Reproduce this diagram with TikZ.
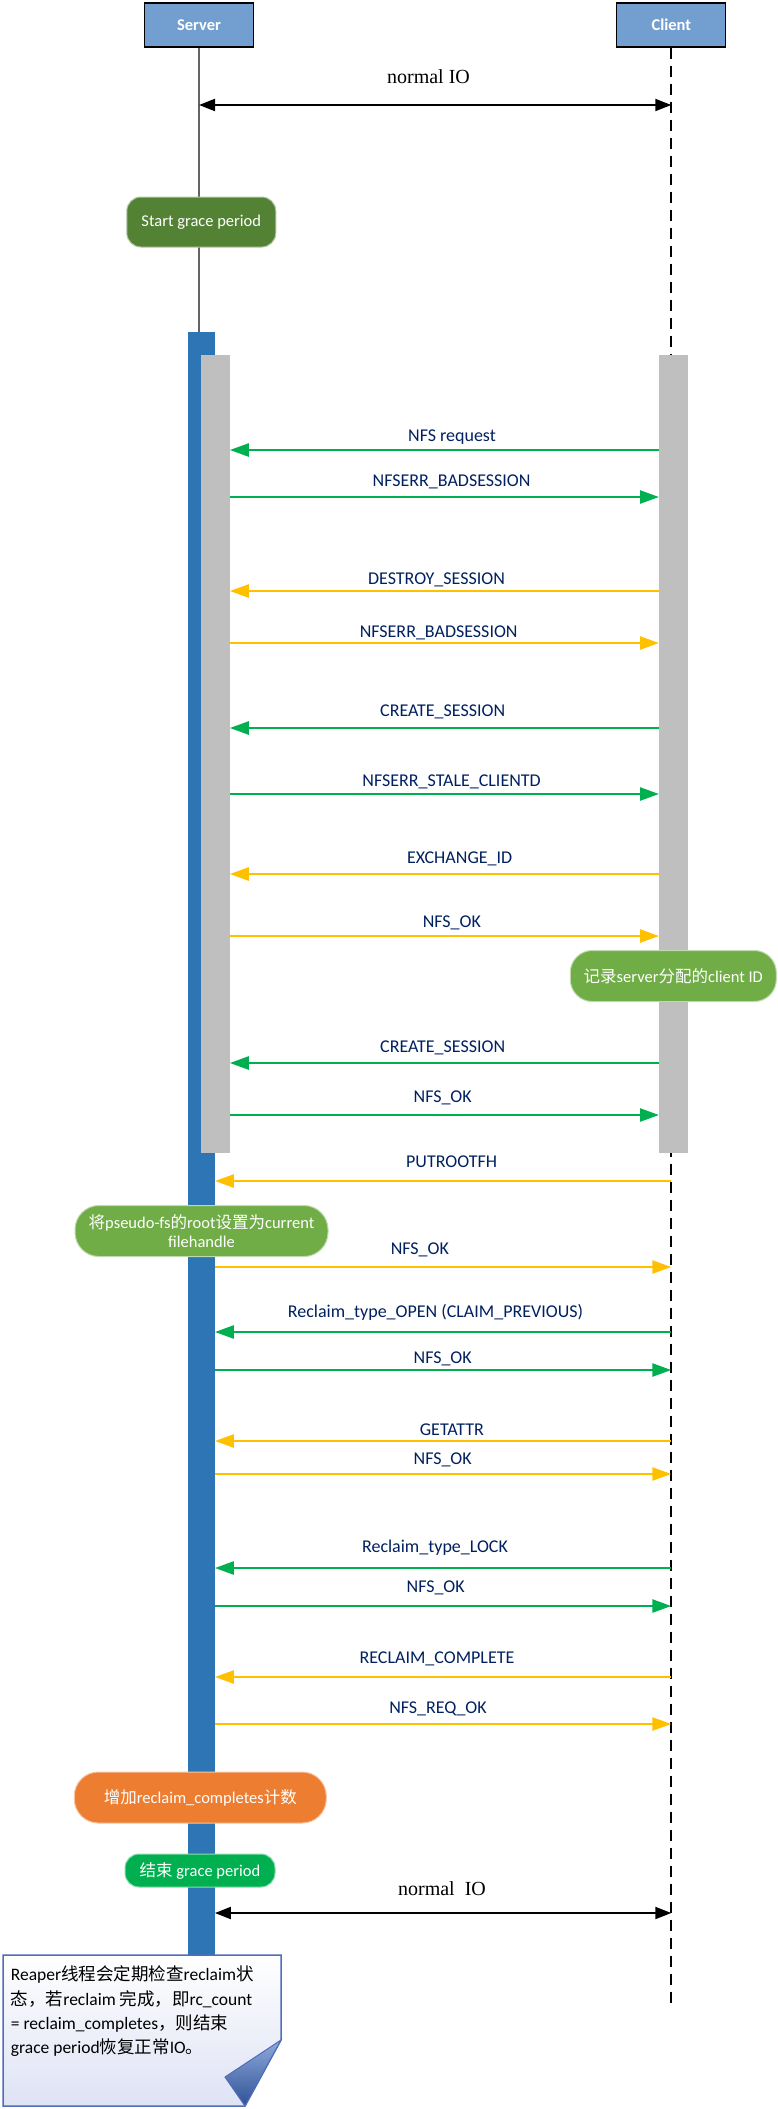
\documentclass[tikz,border=0pt]{standalone}
\usepackage{fontspec}
\setmainfont{Carlito}
\newfontfamily\cjk{Noto Sans CJK SC}
\newfontfamily\serifio{Liberation Serif}
\usetikzlibrary{arrows.meta}
\definecolor{hdr}{RGB}{114,159,207}
\definecolor{actblue}{RGB}{46,117,182}
\definecolor{actgray}{RGB}{191,191,191}
\definecolor{msggreen}{RGB}{0,176,80}
\definecolor{msgyellow}{RGB}{255,192,0}
\definecolor{lbl}{RGB}{0,32,96}
\definecolor{dkgreen}{RGB}{84,130,53}
\definecolor{ltgreen}{RGB}{112,173,71}
\definecolor{orng}{RGB}{237,125,49}
\definecolor{brgreen}{RGB}{0,176,80}
\definecolor{notebd}{RGB}{79,110,185}
\definecolor{notefill}{RGB}{222,226,244}
\definecolor{folddk}{RGB}{47,82,150}
\definecolor{foldlt}{RGB}{143,170,220}
\definecolor{slife}{RGB}{100,100,100}
\newcommand\msgline[8]{%
  \coordinate (#1y) at (0,#5);
  \draw[#2] (#3 |- #1y) -- (#4 |- #1y);
  \node[lbltext] (#1) at (#6,#7) {#8};}
\begin{document}
\begin{tikzpicture}[x=1pt,y=-1pt,
  hdrbox/.style={draw=black,line width=1.3pt,fill=hdr,text=white,font=\fontsize{16.5}{20}\selectfont\bfseries,minimum width=109pt,minimum height=44pt,inner sep=0pt},
  actbar/.style={anchor=north west,inner sep=0pt,outer sep=0pt,draw=none},
  gmsg/.style={draw=msggreen,line width=2.5pt,-{Triangle[length=19pt,width=13pt]}},
  ymsg/.style={draw=msgyellow,line width=2.5pt,-{Triangle[length=19pt,width=13pt]}},
  iomsg/.style={draw=black,line width=2pt,{Triangle[length=16pt,width=12pt]}-{Triangle[length=16pt,width=12pt]}},
  lbltext/.style={anchor=base,inner sep=0pt,text=lbl,font=\fontsize{18}{22}\selectfont},
  iotext/.style={anchor=base,inner sep=0pt,font=\serifio\fontsize{20}{24}\selectfont},
  rbox/.style={inner sep=0pt,text=white,font=\fontsize{16.5}{19.5}\selectfont,line width=1pt,align=center},
  notetext/.style={anchor=base west,inner sep=0pt,font=\fontsize{17.5}{24}\selectfont}]
\useasboundingbox (0,0) rectangle (778,2109);
% headers
\node[hdrbox] (server) at (199,25) {Server};
\node[hdrbox] (client) at (671.3,25) {Client};
% activation bars
\node[actbar,fill=actblue,minimum width=27.3pt,minimum height=1630pt] (sact) at (187.6,332) {};
\coordinate (cend) at (671.3,2007);
% lifelines
\draw[slife,line width=1.2pt] (server.south) -- (server.south |- sact.north);
\draw[black,line width=1.7pt,dash pattern=on 11pt off 7pt] (client.south) -- (cend);
\node[actbar,fill=actgray,minimum width=28.8pt,minimum height=798pt] (sgbar) at (201,355) {};
\node[actbar,fill=actgray,minimum width=29pt,minimum height=798pt] (cbar) at (659,355) {};
% boxes
\node[rbox,fill=dkgreen,draw=white!55!dkgreen,rounded corners=14pt,minimum width=149pt,minimum height=50pt] (start) at (201.3,222) {Start grace period};
\node[rbox,fill=ltgreen,draw=white!55!ltgreen,rounded corners=22pt,minimum width=206pt,minimum height=51pt] (rec) at (673.3,976) {{\cjk 记录}server{\cjk 分配的}client ID};
\node[rbox,fill=ltgreen,draw=white!55!ltgreen,rounded corners=24pt,minimum width=253pt,minimum height=51pt] (root) at (201.5,1231) {{\cjk 将}pseudo-fs{\cjk 的}root{\cjk 设置为}current\\filehandle};
\node[rbox,fill=orng,draw=white!55!orng,rounded corners=24pt,minimum width=252pt,minimum height=51pt] (inc) at (200.3,1797.5) {{\cjk 增加}reclaim\_completes{\cjk 计数}};
\node[rbox,fill=brgreen,draw=white!55!brgreen,rounded corners=14pt,minimum width=150pt,minimum height=33pt] (endg) at (200,1870.5) {{\cjk 结束} grace period};
% normal IO top
\coordinate (io1y) at (0,105);
\draw[iomsg] (server.south |- io1y) -- (client.south |- io1y);
\node[iotext] (io1) at (428.5,84) {normal IO};
% messages inside gray bars
\msgline{m1}{gmsg}{cbar.west}{sgbar.east}{450}{452}{441.7}{NFS request}
\msgline{m2}{gmsg}{sgbar.east}{cbar.west}{497}{451.6}{486.7}{NFSERR\_BADSESSION}
\msgline{m3}{ymsg}{cbar.west}{sgbar.east}{591}{436.5}{584}{DESTROY\_SESSION}
\msgline{m4}{ymsg}{sgbar.east}{cbar.west}{643}{438.7}{637.5}{NFSERR\_BADSESSION}
\msgline{m5}{gmsg}{cbar.west}{sgbar.east}{728}{442.7}{716.5}{CREATE\_SESSION}
\msgline{m6}{gmsg}{sgbar.east}{cbar.west}{794}{451.6}{786}{NFSERR\_STALE\_CLIENTD}
\msgline{m7}{ymsg}{cbar.west}{sgbar.east}{874}{459.6}{863.5}{EXCHANGE\_ID}
\msgline{m8}{ymsg}{sgbar.east}{cbar.west}{936}{451.9}{927.5}{NFS\_OK}
\msgline{m9}{gmsg}{cbar.west}{sgbar.east}{1063}{442.7}{1052.5}{CREATE\_SESSION}
\msgline{m10}{gmsg}{sgbar.east}{cbar.west}{1115}{442.7}{1102}{NFS\_OK}
% messages after gray bars
\msgline{m11}{ymsg}{cend}{sact.east}{1181}{451.6}{1167.5}{PUTROOTFH}
\msgline{m12}{ymsg}{sact.east}{cend}{1267}{419.9}{1254.5}{NFS\_OK}
\msgline{m13}{gmsg}{cend}{sact.east}{1332}{435.5}{1317.5}{Reclaim\_type\_OPEN (CLAIM\_PREVIOUS)}
\msgline{m14}{gmsg}{sact.east}{cend}{1370}{442.7}{1363.5}{NFS\_OK}
\msgline{m15}{ymsg}{cend}{sact.east}{1441}{451.9}{1435}{GETATTR}
\msgline{m16}{ymsg}{sact.east}{cend}{1474}{442.7}{1464.5}{NFS\_OK}
\msgline{m17}{gmsg}{cend}{sact.east}{1568}{435}{1552.5}{Reclaim\_type\_LOCK}
\msgline{m18}{gmsg}{sact.east}{cend}{1606}{435.7}{1592.5}{NFS\_OK}
\msgline{m19}{ymsg}{cend}{sact.east}{1677}{437}{1663.5}{RECLAIM\_COMPLETE}
\msgline{m20}{ymsg}{sact.east}{cend}{1724}{438}{1713.5}{NFS\_REQ\_OK}
% normal IO bottom
\coordinate (io2y) at (0,1913);
\draw[iomsg] (sact.east |- io2y) -- (cend |- io2y);
\node[iotext] (io2) at (442,1895) {normal\ \ IO};
% note
\path[draw=notebd,line width=1.5pt,top color=white,bottom color=notefill]
  (3,1955) -- (281,1955) -- (281,2040) -- (245,2106) -- (3,2106) -- cycle;
\path[draw=notebd,line width=1pt,top color=foldlt,bottom color=folddk]
  (281,2040) -- (225,2077) -- (245,2106) -- cycle;
\node[notetext] (n1) at (10.7,1980) {Reaper{\cjk 线程会定期检查}reclaim{\cjk 状}};
\node[notetext] (n2) at (10.7,2005) {{\cjk 态，若}reclaim {\cjk 完成，即}rc\_count};
\node[notetext] (n3) at (10.7,2029) {= reclaim\_completes{\cjk ，则结束}};
\node[notetext] (n4) at (10.7,2053) {grace period{\cjk 恢复正常}IO{\cjk 。}};
\end{tikzpicture}
\end{document}
